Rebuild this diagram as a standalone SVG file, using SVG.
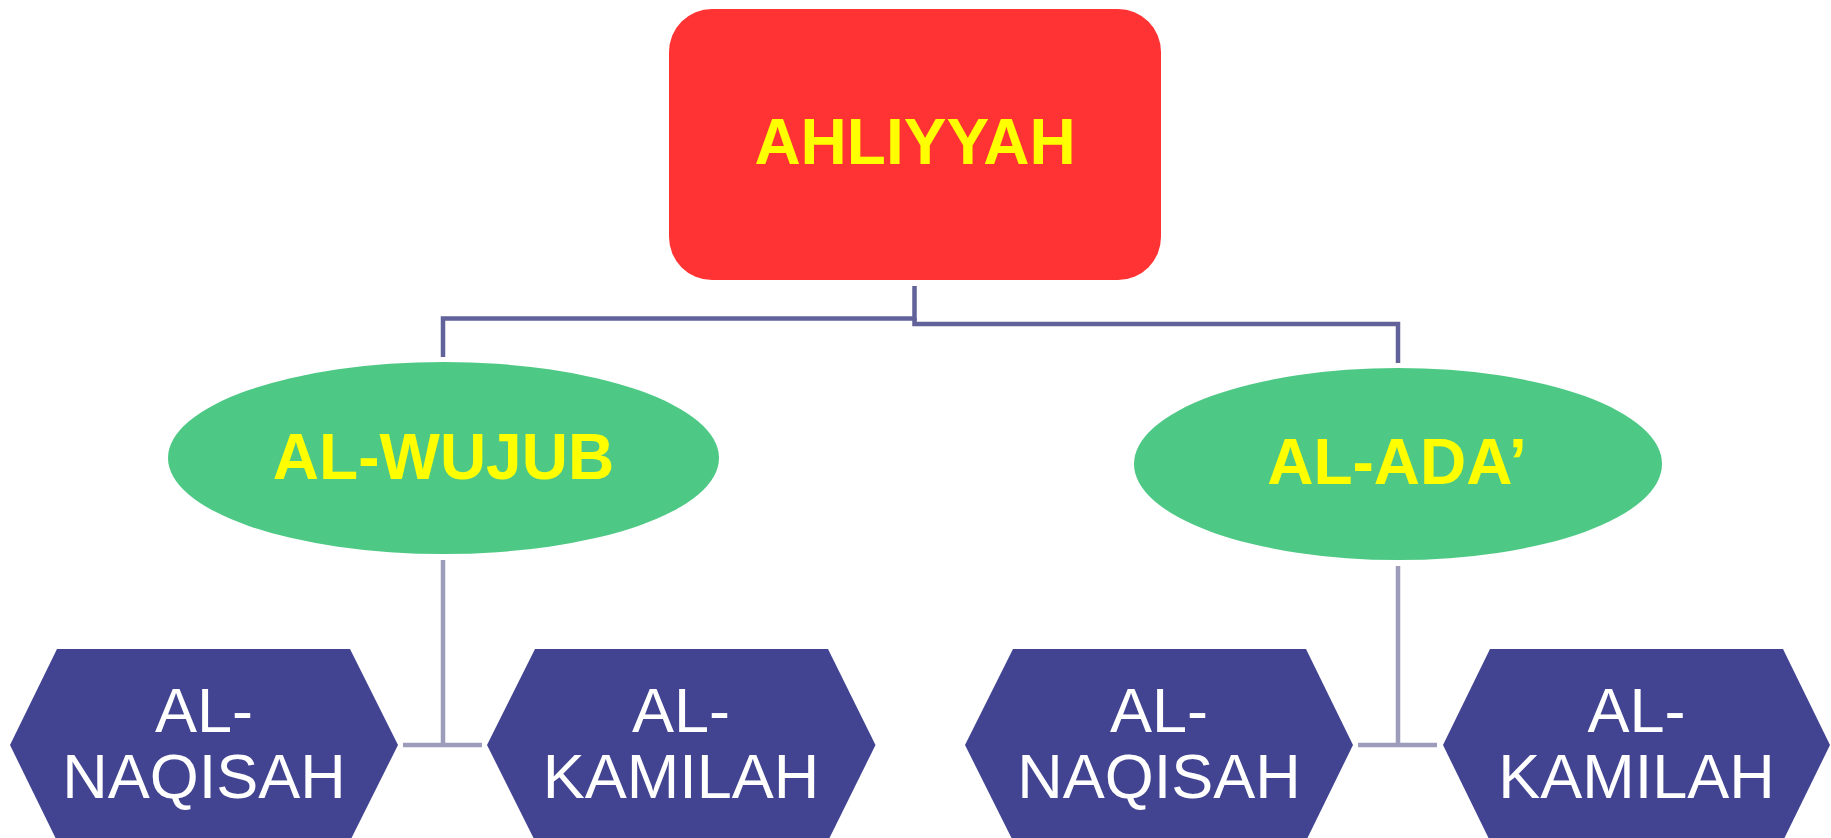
<svg xmlns="http://www.w3.org/2000/svg" width="1831" height="838" viewBox="0 0 1831 838">
<style>
.top{fill:#FF3333}
.ell{fill:#4EC985}
.hex{fill:#424492}
.t1{font-family:"Liberation Sans",Arial,sans-serif;font-weight:bold;font-size:64px;fill:#FFFF00;text-anchor:middle}
.t2{font-family:"Liberation Sans",Arial,sans-serif;font-size:63px;fill:#FFFFFF;text-anchor:middle}
.c1{fill:none;stroke:#62629B;stroke-width:4.5}
.c2{fill:none;stroke:#9D9DBB;stroke-width:4.5}
</style>
<rect width="1831" height="838" fill="#FFFFFF"/>
<g id="connectors">
<polyline class="c1" points="914.5,286 914.5,318.5 443,318.5 443,357"/>
<polyline class="c1" points="914.5,318 914.5,324 1398,324 1398,363"/>
<line class="c2" x1="443" y1="560" x2="443" y2="745"/>
<line class="c2" x1="403" y1="745" x2="482" y2="745"/>
<line class="c2" x1="1398" y1="566" x2="1398" y2="745"/>
<line class="c2" x1="1358" y1="745" x2="1437" y2="745"/>
</g>
<g id="ahliyyah">
<rect class="top" x="669" y="9" width="492" height="271" rx="43" ry="43"/>
<text class="t1" x="915" y="164">AHLIYYAH</text>
</g>
<g id="al-wujub">
<ellipse class="ell" cx="443.5" cy="458" rx="275.5" ry="96"/>
<text class="t1" x="443.5" y="479">AL-WUJUB</text>
</g>
<g id="al-ada">
<ellipse class="ell" cx="1398" cy="464" rx="264" ry="96"/>
<text class="t1" x="1397" y="484">AL-ADA’</text>
</g>
<g id="wujub-naqisah">
<polygon class="hex" points="10,745 57,649 350,649 398,745 350,841 57,841"/>
<text class="t2" x="204" y="732">AL-</text>
<text class="t2" x="204" y="798">NAQISAH</text>
</g>
<g id="wujub-kamilah">
<polygon class="hex" points="487,745 535,649 828,649 875.5,745 828,841 535,841"/>
<text class="t2" x="681" y="732">AL-</text>
<text class="t2" x="681" y="798">KAMILAH</text>
</g>
<g id="ada-naqisah">
<polygon class="hex" points="965,745 1013,649 1306,649 1353,745 1306,841 1013,841"/>
<text class="t2" x="1159" y="732">AL-</text>
<text class="t2" x="1159" y="798">NAQISAH</text>
</g>
<g id="ada-kamilah">
<polygon class="hex" points="1443,745 1490,649 1783,649 1830,745 1783,841 1490,841"/>
<text class="t2" x="1636.5" y="732">AL-</text>
<text class="t2" x="1636.5" y="798">KAMILAH</text>
</g>
</svg>
